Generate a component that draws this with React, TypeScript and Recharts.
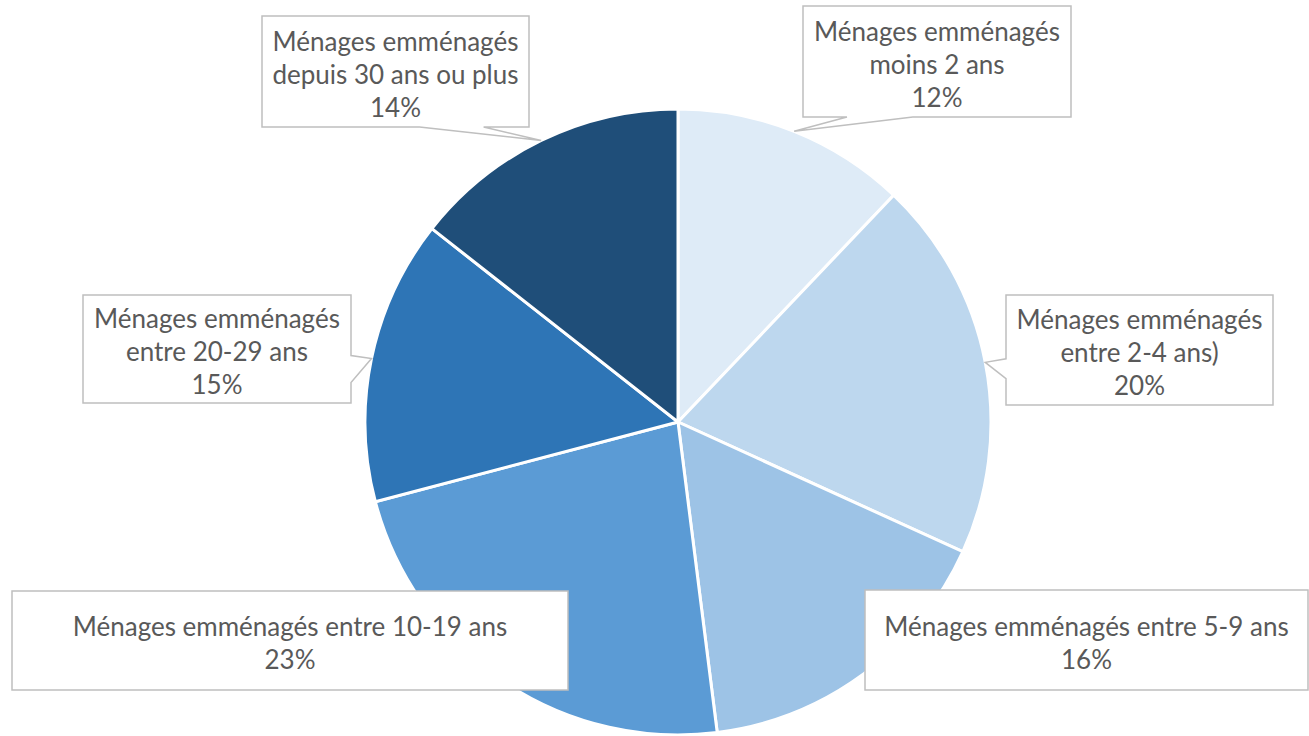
import { Cell, Pie, PieChart } from 'recharts'

const CATEGORIES = [
  'Ménages emménagés\nmoins 2 ans',
  'Ménages emménagés\nentre 2-4 ans)',
  'Ménages emménagés entre 5-9 ans',
  'Ménages emménagés entre 10-19 ans',
  'Ménages emménagés\nentre 20-29 ans',
  'Ménages emménagés\ndepuis 30 ans ou plus',
]

const SHARES = [12.1, 19.7, 16.2, 22.9, 14.7, 14.4]

const COLORS = ['#DEEBF7', '#BDD7EE', '#9DC3E6', '#5B9BD5', '#2E75B6', '#1F4E79']

const data = CATEGORIES.map((name, i) => ({ name, value: SHARES[i] }))

type Side = 'bottom' | 'left' | 'right' | 'none'

interface Callout {
  x: number
  y: number
  w: number
  h: number
  side: Side
  base?: [number, number]
}

// callout boxes, placed like the original data labels
const CALLOUTS: Callout[] = [
  { x: 803, y: 6, w: 268, h: 111, side: 'bottom', base: [0.164, 0.41] },
  { x: 1006, y: 295, w: 267, h: 110, side: 'left', base: [0.58, 0.76] },
  { x: 865, y: 590, w: 443, h: 100, side: 'none' },
  { x: 12, y: 591, w: 556, h: 99, side: 'none' },
  { x: 83, y: 295, w: 268, h: 108, side: 'right', base: [0.56, 0.81] },
  { x: 262, y: 16, w: 267, h: 111, side: 'bottom', base: [0.59, 0.83] },
]

const RAD = Math.PI / 180
const LINE = 33

function calloutPath(c: Callout, tx: number, ty: number) {
  const { x, y, w, h, side } = c
  const [f0, f1] = c.base ?? [0, 0]
  if (side === 'bottom') {
    const b0 = x + w * f0
    const b1 = x + w * f1
    return `M${x},${y}H${x + w}V${y + h}H${b1}L${tx},${ty}L${b0},${y + h}H${x}Z`
  }
  if (side === 'left') {
    const b0 = y + h * f0
    const b1 = y + h * f1
    return `M${x},${y}H${x + w}V${y + h}H${x}V${b1}L${tx},${ty}L${x},${b0}Z`
  }
  if (side === 'right') {
    const b0 = y + h * f0
    const b1 = y + h * f1
    return `M${x},${y}H${x + w}V${b0}L${tx},${ty}L${x + w},${b1}V${y + h}H${x}Z`
  }
  return `M${x},${y}H${x + w}V${y + h}H${x}Z`
}

function renderLabel(props: any) {
  const { cx, cy, midAngle, outerRadius, index, percent, name } = props
  const c = CALLOUTS[index]
  const tx = cx + outerRadius * Math.cos(-midAngle * RAD)
  const ty = cy + outerRadius * Math.sin(-midAngle * RAD)
  const lines = [...String(name).split('\n'), `${Math.round(percent * 100)}%`]
  const mid = c.y + c.h / 2 + 2
  return (
    <g key={`lbl-${index}`}>
      <path
        d={calloutPath(c, tx, ty)}
        fill="#FFFFFF"
        stroke="#BFBFBF"
        strokeWidth={1.5}
        strokeLinejoin="miter"
      />
      {lines.map((line, i) => (
        <text
          key={i}
          x={c.x + c.w / 2}
          y={mid + (i - (lines.length - 1) / 2) * LINE}
          textAnchor="middle"
          dominantBaseline="central"
          fill="#595959"
          fontSize={26}
          fontFamily="Lato, 'Open Sans', sans-serif"
        >
          {line}
        </text>
      ))}
    </g>
  )
}

export default function App() {
  return (
    <div style={{ width: 1309, height: 736, background: '#FFFFFF' }}>
      <style>{'body{margin:0}'}</style>
      <PieChart width={1309} height={736} margin={{ top: 0, right: 0, bottom: 0, left: 0 }}>
        <Pie
          data={data}
          dataKey="value"
          nameKey="name"
          cx={678}
          cy={422}
          outerRadius={313}
          startAngle={90}
          endAngle={-270}
          stroke="#FFFFFF"
          strokeWidth={3}
          label={renderLabel}
          labelLine={false}
          isAnimationActive={false}
        >
          {data.map((d, i) => (
            <Cell key={d.name} fill={COLORS[i]} />
          ))}
        </Pie>
      </PieChart>
    </div>
  )
}
